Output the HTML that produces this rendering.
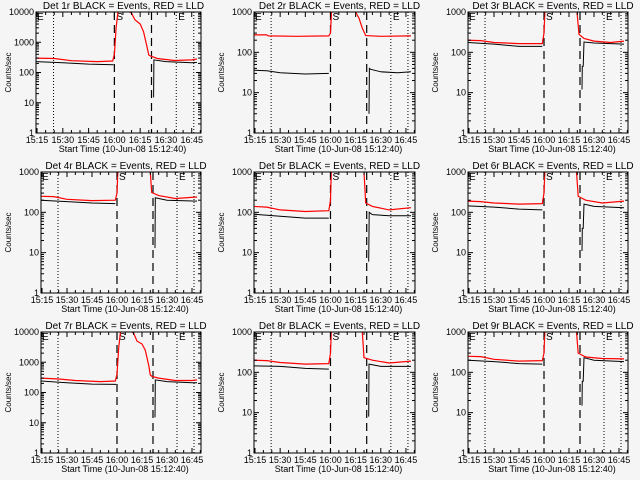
<!DOCTYPE html>
<html><head><meta charset="utf-8"><style>
html,body{margin:0;padding:0;background:#f5f5f5;}
svg{display:block;font-family:"Liberation Sans",sans-serif;}
</style></head><body>
<svg id="chart" width="640" height="480" viewBox="0 0 640 480">
<rect width="640" height="480" fill="#f5f5f5"/>
</svg>
<script>
// ---- data (minutes after 15:00) ----
const panelTitles = ["Det 1r","Det 2r","Det 3r","Det 4r","Det 5r","Det 6r","Det 7r","Det 8r","Det 9r"];
const yMaxes = [10000,1000,1000,1000,1000,1000,10000,1000,1000];
const xTickValues = [15,30,45,60,75,90,105];
const xTickLabels = ["15:15","15:30","15:45","16:00","16:15","16:30","16:45"];
const dashedTimes = [60,81.6];
const dottedTimes = [24.6,96,106.2];

const redT1 = [14,25,35,50,59,60,61,62,63,70,72,75,77,79,80,81,85,95,105,108];
const redV1 = [300,290,245,230,240,400,3000,9000,20000,9000,5500,4000,2200,700,380,350,290,250,260,280];
const blkPreT1 = [14,30,45,59.5], blkPreV1 = [230,210,190,180];
const blkPostT1 = [82.8,83,90,105,108], blkPostV1 = [15,260,230,210,215];

const redT2 = [14,22,23,40,59,60,60.5,61,73,75,77,79,81,90,108];
const redV2 = [270,270,255,250,255,300,800,3000,3000,1000,700,400,260,250,255];
const blkPreT2 = [14,22,30,45,59], blkPreV2 = [36,35,31,29,30];
const blkPostT2 = [83,83.2,84,90,100,108], blkPostV2 = [3,40,38,33,31,33];

const redT3 = [14,22,30,45,59,60,60.5,61,79,79.8,81,84,90,100,108];
const redV3 = [200,195,175,165,165,300,900,3000,3000,1000,280,220,190,175,190];
const blkPreT3 = [14,30,45,59], blkPreV3 = [175,160,140,140];
const blkPostT3 = [82.8,83,83.5,84,90,108], blkPostV3 = [12,45,45,180,170,160];

const redT4 = [14,22,30,45,59,60,60.5,61,79,80,80.8,85,95,108];
const redV4 = [250,245,210,195,200,300,1000,3000,3000,1000,310,260,220,240];
const blkPreT4 = [14,30,45,59], blkPreV4 = [200,185,170,165];
const blkPostT4 = [82.8,83,90,108], blkPostV4 = [13,230,200,190];

const redT5 = [14,22,30,45,59,60,60.5,61,78,80,81,85,95,108];
const redV5 = [140,135,115,105,110,200,1000,3000,3000,1000,170,140,115,130];
const blkPreT5 = [14,30,45,59], blkPreV5 = [90,80,72,72];
const blkPostT5 = [82.8,83.1,85,95,108], blkPostV5 = [6,100,88,82,82];

const redT6 = [14,22,30,45,59,60,60.5,61,78.5,79.5,80.5,85,95,108];
const redV6 = [190,185,170,160,165,300,1000,3000,3000,1000,250,200,170,190];
const blkPreT6 = [14,30,45,59], blkPreV6 = [145,135,120,115];
const blkPostT6 = [82.8,83,83.5,84,90,108], blkPostV6 = [11,40,40,160,140,130];

const redT7 = [14,25,35,50,59,60,61,62,63,70,72,75,77,79,80,81,85,95,105,108];
const redV7 = [300,280,250,230,240,400,3000,9000,20000,9000,5000,4000,2500,800,380,340,300,250,250,260];
const blkPreT7 = [14,30,45,59.5], blkPreV7 = [240,210,190,185];
const blkPostT7 = [82.8,83,90,105,108], blkPostV7 = [15,260,230,210,210];

const redT8 = [14,22,30,45,59,60,60.5,61,77,79,80,85,95,108];
const redV8 = [200,195,175,160,165,300,1000,3000,3000,1000,230,200,170,190];
const blkPreT8 = [14,30,45,59], blkPreV8 = [145,140,125,120];
const blkPostT8 = [82.8,83,90,108], blkPostV8 = [8,160,140,140];

const redT9 = [14,22,30,45,59,60,60.5,61,78.5,79.5,80.5,85,95,108];
const redV9 = [250,245,210,190,195,300,1000,3000,3000,1000,300,240,220,215];
const blkPreT9 = [14,30,45,59], blkPreV9 = [200,185,165,160];
const blkPostT9 = [82.8,83,83.5,84,90,108], blkPostV9 = [15,60,60,230,200,185];

const redTs=[redT1,redT2,redT3,redT4,redT5,redT6,redT7,redT8,redT9];
const redVs=[redV1,redV2,redV3,redV4,redV5,redV6,redV7,redV8,redV9];
const bPreTs=[blkPreT1,blkPreT2,blkPreT3,blkPreT4,blkPreT5,blkPreT6,blkPreT7,blkPreT8,blkPreT9];
const bPreVs=[blkPreV1,blkPreV2,blkPreV3,blkPreV4,blkPreV5,blkPreV6,blkPreV7,blkPreV8,blkPreV9];
const bPostTs=[blkPostT1,blkPostT2,blkPostT3,blkPostT4,blkPostT5,blkPostT6,blkPostT7,blkPostT8,blkPostT9];
const bPostVs=[blkPostV1,blkPostV2,blkPostV3,blkPostV4,blkPostV5,blkPostV6,blkPostV7,blkPostV8,blkPostV9];

const NS="http://www.w3.org/2000/svg";
const svg=document.getElementById('chart');
function mk(tag,attrs,parent){const e=document.createElementNS(NS,tag);for(const k in attrs)e.setAttribute(k,attrs[k]);(parent||svg).appendChild(e);return e;}
const XMIN=14.4,XMAX=110.4;
const colOrig=[0,213,427];
const colRight=[201,415,628];

for(let p=0;p<9;p++){
  const r=Math.floor(p/3),c=p%3;
  const oy=r*160;
  const top=oy+12,bot=oy+133;
  const left=(yMaxes[p]===10000&&r===0)?36:(c===0?41:(c===1?254:468));
  const right=colRight[c];
  const dec=Math.log10(yMaxes[p]);
  const X=t=>left+(t-XMIN)/(XMAX-XMIN)*(right-left);
  const Y=v=>bot-Math.log10(Math.max(v,0.5))/dec*(bot-top);
  const g=mk('g',{});
  
  
  const cid='clip'+p;
  const cp=mk('clipPath',{id:cid},g);mk('rect',{x:left,y:top,width:right-left,height:bot-top},cp);
  // vertical lines
  dashedTimes.forEach(t=>{const l=mk('line',{x1:X(t),x2:X(t),y1:top,y2:bot,stroke:'#000','stroke-width':1.2,'stroke-dasharray':'8,5'},g);
    
    });
  dottedTimes.forEach(t=>{const l=mk('line',{x1:X(t),x2:X(t),y1:top,y2:bot,stroke:'#000','stroke-width':1,'stroke-dasharray':'1,2'},g);
    
    });
  // markers
  [['E',left+1],['S',X(dashedTimes[0])+2],['E',X(dottedTimes[1])+2]].forEach(m=>{
    const tx=mk('text',{x:m[1],y:top+8,'font-size':10},g);tx.textContent=m[0];
    
    });
  // series
  const cg=mk('g',{'clip-path':'url(#'+cid+')'},g);
  const pts=(T,V)=>T.map((t,i)=>X(t).toFixed(1)+','+Y(V[i]).toFixed(1)).join(' ');
  const b1=mk('polyline',{points:pts(bPreTs[p],bPreVs[p]),fill:'none',stroke:'#000','stroke-width':1},cg);
  
  
  const b2=mk('polyline',{points:pts(bPostTs[p],bPostVs[p]),fill:'none',stroke:'#000','stroke-width':1},cg);
  
  
  const rl=mk('polyline',{points:pts(redTs[p],redVs[p]),fill:'none',stroke:'#ff0000','stroke-width':1.2},cg);
  
  
  // box
  const bx=mk('rect',{x:left,y:top,width:right-left,height:bot-top,fill:'none',stroke:'#000','stroke-width':1},g);
  
  
  // y ticks
  for(let d=0;d<=dec;d++){
    const y=Y(Math.pow(10,d));
    mk('line',{x1:left,x2:left+5,y1:y,y2:y,stroke:'#000'},g);
    mk('line',{x1:right,x2:right-5,y1:y,y2:y,stroke:'#000'},g);
    const tl=mk('text',{x:left-2,y:y+3,'font-size':9,'text-anchor':'end'},g);
    tl.textContent=String(Math.pow(10,d));
    
    
    if(d<dec)for(let m=2;m<10;m++){const ym=Y(m*Math.pow(10,d));
      mk('line',{x1:left,x2:left+3,y1:ym,y2:ym,stroke:'#000'},g);
      mk('line',{x1:right,x2:right-3,y1:ym,y2:ym,stroke:'#000'},g);}
  }
  // x ticks
  for(let t=15;t<=110;t+=5){const x=X(t);const L=(t%15===0)?5:3;
    mk('line',{x1:x,x2:x,y1:bot,y2:bot-L,stroke:'#000'},g);
    mk('line',{x1:x,x2:x,y1:top,y2:top+L,stroke:'#000'},g);}
  xTickValues.forEach((t,i)=>{const tl=mk('text',{x:X(t),y:bot+10,'font-size':9,'text-anchor':'middle'},g);
    tl.textContent=xTickLabels[i];
    
    });
  const xt=mk('text',{x:(left+right)/2+4,y:bot+19,'font-size':9,'text-anchor':'middle'},g);
  xt.textContent='Start Time (10-Jun-08 15:12:40)';
  
  
  const yx=colOrig[c]+11,yy=(top+bot)/2;
  const yt=mk('text',{x:yx,y:yy,'font-size':8,'text-anchor':'middle',transform:'rotate(-90 '+yx+' '+yy+')'},g);
  yt.textContent='Counts/sec';
  
  
  const tt=mk('text',{x:(left+right)/2+5,y:oy+9,'font-size':10,'text-anchor':'middle'},g);
  tt.textContent=panelTitles[p]+' BLACK = Events, RED = LLD';
  
  
}
</script>
</body></html>
